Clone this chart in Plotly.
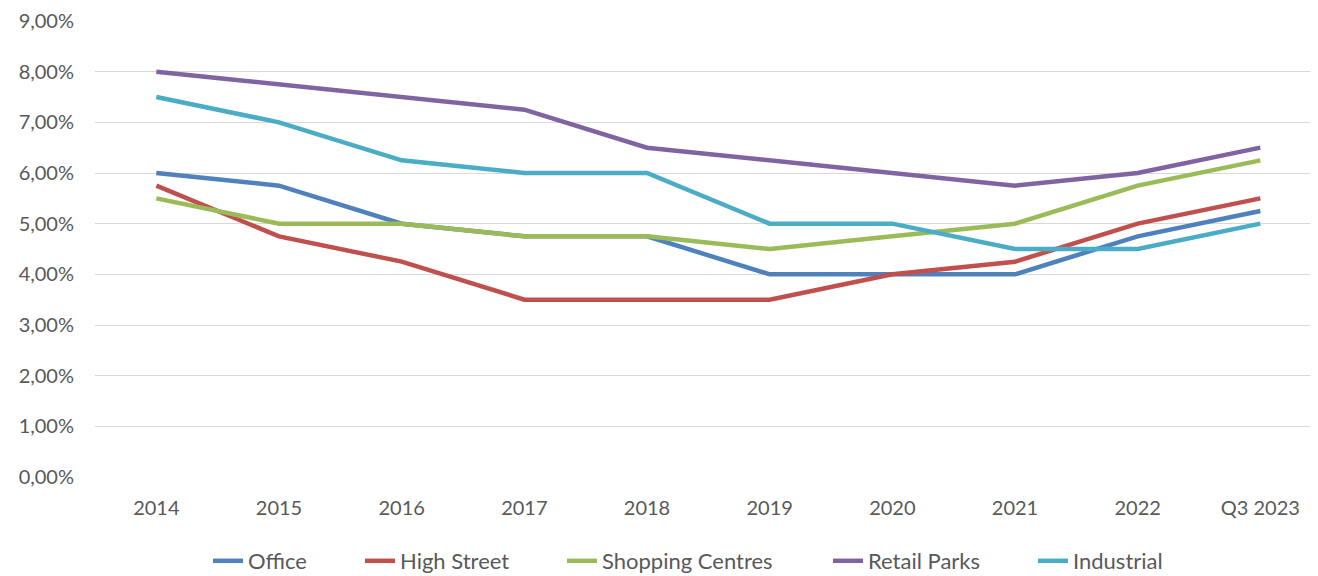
import plotly.graph_objects as go

categories = ["2014", "2015", "2016", "2017", "2018", "2019", "2020", "2021", "2022", "Q3 2023"]
office = [6.0, 5.75, 5.0, 4.75, 4.75, 4.0, 4.0, 4.0, 4.75, 5.25]
high_street = [5.75, 4.75, 4.25, 3.5, 3.5, 3.5, 4.0, 4.25, 5.0, 5.5]
shopping_centres = [5.5, 5.0, 5.0, 4.75, 4.75, 4.5, 4.75, 5.0, 5.75, 6.25]
retail_parks = [8.0, 7.75, 7.5, 7.25, 6.5, 6.25, 6.0, 5.75, 6.0, 6.5]
industrial = [7.5, 7.0, 6.25, 6.0, 6.0, 5.0, 5.0, 4.5, 4.5, 5.0]
y_ticks = [0, 1, 2, 3, 4, 5, 6, 7, 8, 9]
y_tick_labels = ["0,00%", "1,00%", "2,00%", "3,00%", "4,00%", "5,00%", "6,00%", "7,00%", "8,00%", "9,00%"]

series = [
    ("Office", office, "#4F81BD"),
    ("High Street", high_street, "#C0504D"),
    ("Shopping Centres", shopping_centres, "#9BBB59"),
    ("Retail Parks", retail_parks, "#8064A2"),
    ("Industrial", industrial, "#4BACC6"),
]
# legend text start positions (page px) for each series
legend_text_x = [248, 400, 602, 868, 1073]

W, H = 1310, 568
fig = go.Figure()
legend_ids = ["legend", "legend2", "legend3", "legend4", "legend5"]
for (name, vals, color), lid in zip(series, legend_ids):
    fig.add_trace(go.Scatter(
        x=list(range(len(categories))), y=vals, name=name, mode="lines",
        line=dict(color=color, width=4.5), legend=lid,
    ))

font_fam = "Lato, 'Open Sans', sans-serif"
legend_layout = {}
for lid, tx in zip(legend_ids, legend_text_x):
    box_left = tx - 8 - 40  # page offset, text offset within legend box
    legend_layout[lid] = dict(
        orientation="h", xref="container", yref="container",
        x=box_left / W, xanchor="left", y=(H - (561 - 8)) / H, yanchor="middle",
        font=dict(size=22, color="#595959"), bgcolor="rgba(0,0,0,0)",
    )

fig.update_layout(
    width=W, height=H,
    margin=dict(l=87, r=0, t=13, b=99),
    paper_bgcolor="white", plot_bgcolor="white",
    font=dict(family=font_fam, size=20, color="#595959"),
    showlegend=True,
    xaxis=dict(range=[-0.5, 9.47], tickmode="array", tickvals=list(range(len(categories))),
               ticktext=categories, showgrid=False, zeroline=False, showline=False,
               ticks="", ticklabelstandoff=17, tickfont=dict(size=20)),
    yaxis=dict(range=[0, 9], tickmode="array", tickvals=y_ticks, ticktext=y_tick_labels,
               showgrid=True, gridcolor="#D9D9D9", gridwidth=1.3, zeroline=False,
               showline=False, ticks="", ticklabelstandoff=20, tickfont=dict(size=20)),
    **legend_layout,
)
fig.write_html("out.html")
